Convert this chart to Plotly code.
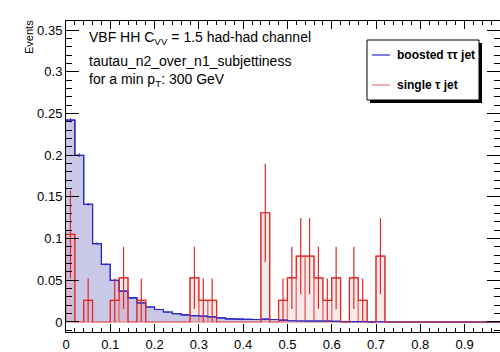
import plotly.graph_objects as go

# ---------------- data ----------------
bin_width = 0.02
bin_edges = [round(i * 0.02, 2) for i in range(51)]

boosted_vals = [0.242, 0.200, 0.141, 0.094, 0.069, 0.050, 0.037, 0.029, 0.023, 0.018,
                0.015, 0.012, 0.010, 0.0085, 0.0076, 0.0070, 0.0062, 0.0050, 0.0038, 0.0035,
                0.0032, 0.0030, 0.0035, 0.0030, 0.0022, 0.0015, 0.0012, 0.0011, 0.0010, 0.0010,
                0.0008, 0.0005, 0.0005, 0.0005, 0.0002, 0.0003, 0, 0, 0, 0,
                0, 0, 0, 0, 0, 0, 0, 0, 0, 0]
boosted_errs = [0.0025, 0.0022, 0.0018, 0.0015, 0.0012, 0.0011, 0.0010, 0.0009, 0.0008, 0.0007,
                0.0006, 0.0006, 0.0005, 0.0005, 0.0005, 0.0004, 0.0004, 0.0004, 0.0003, 0.0003,
                0.0003, 0.0003, 0.0003, 0.0003, 0.0002, 0.0002, 0.0002, 0.0002, 0.0002, 0.0002,
                0.0002, 0.0001, 0.0001, 0.0001, 0.0001, 0.0001, 0, 0, 0, 0,
                0, 0, 0, 0, 0, 0, 0, 0, 0, 0]

single_vals = [0.105, 0, 0.026, 0, 0, 0.026, 0.053, 0, 0.026, 0,
               0, 0, 0, 0, 0.053, 0.026, 0.026, 0, 0, 0,
               0, 0, 0.131, 0, 0.026, 0.053, 0.079, 0.079, 0.053, 0.026,
               0.053, 0, 0.053, 0.026, 0, 0.079, 0, 0, 0, 0,
               0, 0, 0, 0, 0, 0, 0, 0, 0, 0]
single_errs = [0.0527, 0, 0.0263, 0, 0, 0.0263, 0.0373, 0, 0.0263, 0,
               0, 0, 0, 0, 0.0373, 0.0263, 0.0263, 0, 0, 0,
               0, 0, 0.0589, 0, 0.0263, 0.0373, 0.0456, 0.0456, 0.0373, 0.0263,
               0.0373, 0, 0.0373, 0.0263, 0, 0.0456, 0, 0, 0, 0,
               0, 0, 0, 0, 0, 0, 0, 0, 0, 0]

title_lines = ["VBF HH C<sub>VV</sub> = 1.5 had-had channel",
               "tautau_n2_over_n1_subjettiness",
               "for a min p<sub>T</sub>: 300 GeV"]
legend_labels = ["boosted \u03c4\u03c4 jet", "single \u03c4 jet"]

# ---------------- styling ----------------
FONT = "Liberation Sans, Arial, sans-serif"
BLUE = "#2b2bc8"
BLUE_FILL = "#c9c9e7"
RED = "#e02828"
RED_EDGE = "#e67a7a"
RED_FILL = "rgba(235,140,140,0.20)"

W, H = 500, 352
L, R, T, B = 66, 0, 21, 20
PW, PH = W - L - R, H - T - B

def px(x):
    return (x - L) / PW

def py(y):
    return (H - B - y) / PH

centers = [e + bin_width / 2 for e in bin_edges[:-1]]

fig = go.Figure()

# blue filled step histogram
fig.add_trace(go.Scatter(
    x=bin_edges, y=boosted_vals + [boosted_vals[-1]], mode="lines",
    line=dict(shape="hv", color=BLUE, width=1.2),
    fill="tozeroy", fillcolor=BLUE_FILL, hoverinfo="skip"))

# red per-bin rectangles
rx, ry = [], []
for i, v in enumerate(single_vals):
    if v > 0:
        x0, x1 = bin_edges[i], bin_edges[i + 1]
        rx += [x0, x0, x1, x1, x0, None]
        ry += [0, v, v, 0, 0, None]
fig.add_trace(go.Scatter(
    x=rx, y=ry, mode="lines", fill="toself", fillcolor=RED_FILL,
    line=dict(color=RED_EDGE, width=1.2), hoverinfo="skip"))

# blue line on top
fig.add_trace(go.Scatter(
    x=bin_edges, y=boosted_vals + [boosted_vals[-1]], mode="lines",
    line=dict(shape="hv", color=BLUE, width=1.2), hoverinfo="skip"))

# red step line
fig.add_trace(go.Scatter(
    x=bin_edges, y=single_vals + [single_vals[-1]], mode="lines",
    line=dict(shape="hv", color=RED, width=1.2), hoverinfo="skip"))

# error bars
fig.add_trace(go.Scatter(
    x=centers, y=boosted_vals, mode="markers", marker=dict(size=1, color=BLUE),
    error_y=dict(type="data", array=boosted_errs, color=BLUE, thickness=1, width=0),
    hoverinfo="skip"))
ex = [c for c, v in zip(centers, single_vals) if v > 0]
ey = [v for v in single_vals if v > 0]
ee = [e for e, v in zip(single_errs, single_vals) if v > 0]
fig.add_trace(go.Scatter(
    x=ex, y=ey, mode="markers", marker=dict(size=1, color=RED),
    error_y=dict(type="data", array=ee, color=RED, thickness=1.2, width=0),
    hoverinfo="skip"))

annotations = []
# title text
for txt, yc in zip(title_lines, [38, 61, 80]):
    annotations.append(dict(text=txt, x=px(87), y=py(yc), xref="paper", yref="paper",
                            xanchor="left", yanchor="middle", showarrow=False,
                            font=dict(family=FONT, size=14, color="black")))
# y axis title
annotations.append(dict(text="Events", x=px(29), y=py(37), xref="paper", yref="paper",
                        xanchor="center", yanchor="middle", textangle=-90, showarrow=False,
                        font=dict(family=FONT, size=11, color="black")))

shapes = []
# legend box with shadow
shapes.append(dict(type="rect", xref="paper", yref="paper",
                   x0=px(370), x1=px(482), y0=py(103), y1=py(43),
                   fillcolor="black", line=dict(width=0), layer="above"))
shapes.append(dict(type="rect", xref="paper", yref="paper",
                   x0=px(367), x1=px(479), y0=py(100), y1=py(40),
                   fillcolor="white", line=dict(color="black", width=1), layer="above"))
for col, yc, lab in zip([BLUE, RED_EDGE], [55, 85], legend_labels):
    shapes.append(dict(type="line", xref="paper", yref="paper",
                       x0=px(372), x1=px(390), y0=py(yc), y1=py(yc),
                       line=dict(color=col, width=1.2), layer="above"))
    annotations.append(dict(text="<b>" + lab + "</b>", x=px(395), y=py(yc), xref="paper",
                            yref="paper", xanchor="left", yanchor="middle", showarrow=False,
                            font=dict(family=FONT, size=12, color="black")))

axis_common = dict(showgrid=False, zeroline=False, showline=True, linecolor="black",
                   linewidth=1, mirror="ticks", ticks="inside", tickcolor="black",
                   tickfont=dict(family=FONT, size=13, color="black"))

fig.update_layout(
    width=W, height=H,
    margin=dict(l=L, r=R, t=T, b=B),
    paper_bgcolor="white", plot_bgcolor="white",
    showlegend=False,
    font=dict(family=FONT, color="black"),
    xaxis=dict(range=[0, 0.98], tick0=0, dtick=0.1, ticklen=8,
               minor=dict(dtick=0.02, ticklen=4, ticks="inside", tickcolor="black"),
               **axis_common),
    yaxis=dict(range=[-0.012, 0.361], tick0=0, dtick=0.05, ticklen=13,
               minor=dict(dtick=0.01, ticklen=6, ticks="inside", tickcolor="black"),
               **axis_common),
    annotations=annotations, shapes=shapes,
)

fig.write_html("out.html")
